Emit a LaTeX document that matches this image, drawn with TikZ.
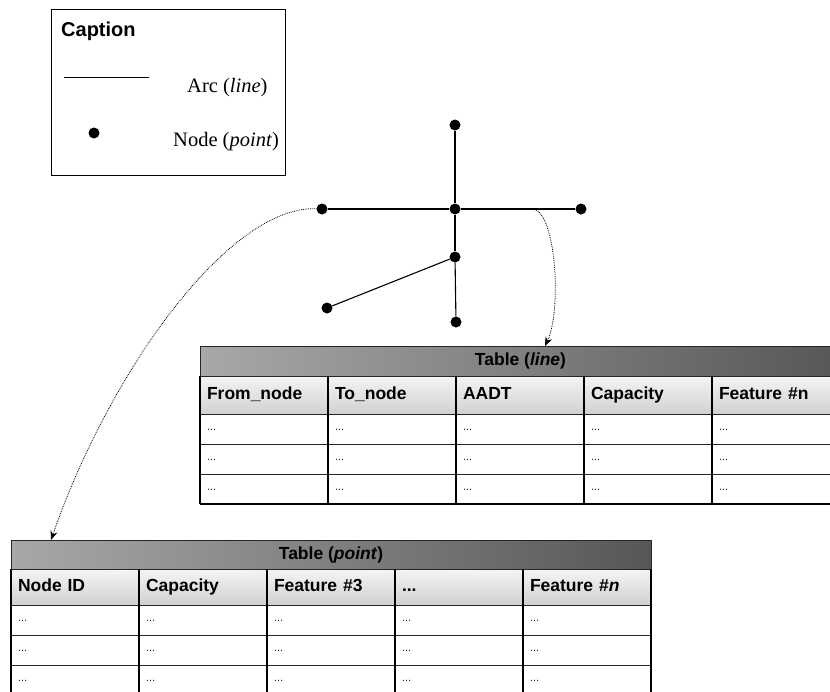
\documentclass[tikz,border=0pt]{standalone}
\usepackage{fontspec}
\setmainfont{Liberation Serif}
\setsansfont{Liberation Sans}
\usetikzlibrary{arrows.meta,positioning}

\definecolor{bandleft}{HTML}{A8A8A8}
\definecolor{bandright}{HTML}{575757}
\definecolor{headtop}{HTML}{F5F5F5}
\definecolor{headbot}{HTML}{D0D0D0}

\begin{document}
\begin{tikzpicture}[x=1pt, y=-1pt,
    netdot/.style={circle, fill=black, inner sep=0pt, minimum size=11pt},
    titleband/.style={draw=black!85, line width=0.9pt, outer sep=0pt, inner sep=0pt,
      left color=bandleft, right color=bandright, text height=12.5pt, text depth=3.5pt,
      font=\sffamily\bfseries\fontsize{17.5}{20}\selectfont},
    headcell/.style={draw=black!85, line width=0.9pt, outer sep=0pt,
      top color=headtop, bottom color=headbot, text width=114pt, inner xsep=7pt,
      inner ysep=0pt, text height=12.5pt, text depth=3.5pt, align=left,
      font=\sffamily\bfseries\fontsize{17.5}{20}\selectfont},
    datacell/.style={draw=black!85, line width=0.9pt, outer sep=0pt, fill=white,
      text width=114pt, inner xsep=7pt, inner ysep=0pt, minimum height=30pt,
      text height=3pt, text depth=0pt, align=left, text=black!85,
      font=\sffamily\fontsize{11}{12}\selectfont},
    sepline/.style={draw=black, line width=1.6pt},
    link/.style={densely dotted, draw=black, line width=0.8pt,
      -{Stealth[length=9pt,width=7pt]}}]
      \useasboundingbox (0,0) rectangle (830,691);

      % caption box
      \node[draw, line width=0.8pt, outer sep=0pt, anchor=north west,
        minimum width=234pt, minimum height=166pt] (cap) at (51,9) {};
      \node[anchor=base west, inner sep=0pt,
        font=\sffamily\bfseries\fontsize{20}{24}\selectfont] (captxt) at (61,36) {Caption};
      \coordinate (arcL) at (64,77);
      \coordinate (arcR) at (149,77);
      \draw[line width=1pt] (arcL) -- (arcR);
      \node[anchor=base west, inner sep=0pt, font=\fontsize{20.5}{24}\selectfont]
        (arctxt) at (187,92) {Arc (\textit{line})};
      \node[netdot] (key) at (94,133) {};
      \node[anchor=base west, inner sep=0pt, font=\fontsize{20.5}{24}\selectfont]
        (keytxt) at (173,146) {Node (\textit{point})};

      % network
      \begin{scope}[every node/.style={netdot}]
        \node (A) at (322,209) {};
        \node (B) at (455,209) {};
        \node (C) at (455,125) {};
        \node (D) at (581,209) {};
        \node (E) at (455,257) {};
        \node (F) at (327,308) {};
        \node (G) at (456,322) {};
      \end{scope}
      \begin{scope}[every edge/.style={draw=black, line width=1.1pt}]
        \path (C) edge (B);
        \path (A) edge (B);
        \path (B) edge (D);
        \path (B) edge (E);
        \path (E) edge (G);
        \path (E) edge (F);
      \end{scope}

      % table (line)
      \node[titleband, minimum width=641pt, minimum height=30pt, anchor=north west]
        (lt) at (200,346) {Table (\textit{line})};
      \begin{scope}[every node/.style={headcell, minimum height=38pt}]
        \node (lh1) [below right=0pt and 0pt of lt.south west] {From\_node};
        \node (lh2) [right=0pt of lh1] {To\_node};
        \node (lh3) [right=0pt of lh2] {AADT};
        \node (lh4) [right=0pt of lh3] {Capacity};
        \node (lh5) [right=0pt of lh4] {Feature \#n};
      \end{scope}
      \foreach \c in {1,...,5} {
        \node[datacell, below=0pt of lh\c] (lc\c1) {...};
        \node[datacell, below=0pt of lc\c1] (lc\c2) {...};
        \node[datacell, below=0pt of lc\c2] (lc\c3) {...};
        \draw[sepline] (lh\c.north west) -- (lc\c3.south west);
      }
      \draw[sepline] (lc13.south west) -- (lc53.south east);

      % table (point)
      \node[titleband, minimum width=640pt, minimum height=29pt, anchor=north west]
        (pt) at (11,540) {Table (\textit{point})};
      \begin{scope}[every node/.style={headcell, minimum height=36pt}]
        \node (ph1) [below right=0pt and 0pt of pt.south west] {Node ID};
        \node (ph2) [right=0pt of ph1] {Capacity};
        \node (ph3) [right=0pt of ph2] {Feature \#3};
        \node (ph4) [right=0pt of ph3] {...};
        \node (ph5) [right=0pt of ph4] {Feature \#\textit{n}};
      \end{scope}
      \foreach \c in {1,...,5} {
        \node[datacell, below=0pt of ph\c] (pc\c1) {...};
        \node[datacell, below=0pt of pc\c1] (pc\c2) {...};
        \node[datacell, below=0pt of pc\c2] (pc\c3) {...};
        \draw[sepline] (ph\c.north west) -- (pc\c3.south west);
      }
      \draw[sepline] (ph5.north east) -- (pc53.south east);

      % links from the network to the tables
      \coordinate (onarc) at (533,209);
      \coordinate (ltin) at (545,346);
      \coordinate (ptin) at (51,540);
      \draw[link] (onarc) .. controls (556,212) and (562,310) .. (ltin);
      \draw[link] (A) .. controls (230,205) and (110,370) .. (ptin);
    \end{tikzpicture}
\end{document}
